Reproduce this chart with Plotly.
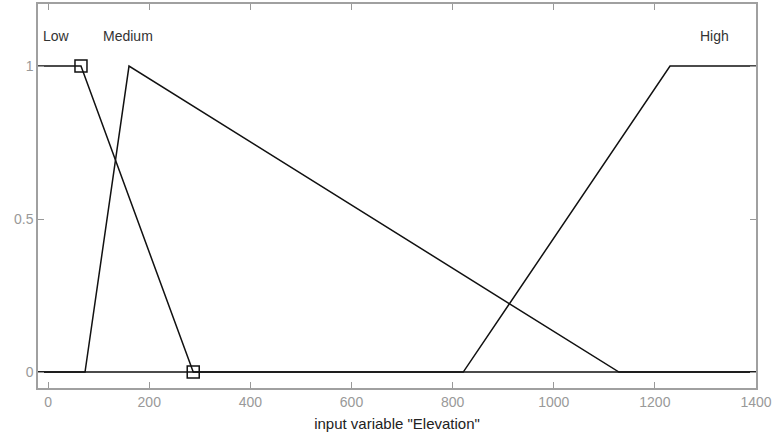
import plotly.graph_objects as go

# Membership functions (input variable "Elevation")
low_x = [-20, 65, 287, 1400]
low_y = [1, 1, 0, 0]
med_x = [-20, 73, 160, 1129, 1400]
med_y = [0, 0, 1, 0, 0]
high_x = [-20, 821, 1230, 1400]
high_y = [0, 0, 1, 1]
marker_x = [65, 287]
marker_y = [1, 0]
labels = ["Low", "Medium", "High"]
label_x = [16, 158, 1317]
label_y = [1.1, 1.1, 1.1]
xticks = [0, 200, 400, 600, 800, 1000, 1200, 1400]
yticks = [0, 0.5, 1]

fig = go.Figure()
for xs, ys in [(low_x, low_y), (med_x, med_y), (high_x, high_y)]:
    fig.add_trace(go.Scatter(x=xs, y=ys, mode="lines",
                             line=dict(color="#111111", width=1.5),
                             showlegend=False, hoverinfo="skip"))
fig.add_trace(go.Scatter(x=marker_x, y=marker_y, mode="markers",
                         marker=dict(symbol="square-open", size=12,
                                     color="#111111", line=dict(width=1.5)),
                         showlegend=False))
for t, x, y in zip(labels, label_x, label_y):
    fig.add_annotation(x=x, y=y, text=t, showarrow=False,
                       font=dict(family="Arial, Liberation Sans", size=14, color="#333333"))

fig.update_layout(
    width=772, height=438,
    margin=dict(l=38, r=16, t=4, b=50, autoexpand=False),
    paper_bgcolor="white", plot_bgcolor="white",
    font=dict(family="Arial, Liberation Sans", size=14, color="#999999"),
)
fig.update_xaxes(range=[-20, 1400], tickvals=xticks, ticks="inside", ticklen=6,
                 tickcolor="#999999", showgrid=False, zeroline=False,
                 showline=True, linecolor="#a0a0a0", linewidth=1.5, mirror="ticks",
                 title=dict(text='input variable "Elevation"', standoff=10,
                            font=dict(color="#222222", size=15)))
fig.update_yaxes(range=[-0.052, 1.203], tickvals=yticks, ticktext=["0", "0.5", "1"],
                 ticks="inside", ticklen=6, tickcolor="#999999", showgrid=False,
                 zeroline=False, showline=True, linecolor="#a0a0a0", linewidth=1.5,
                 mirror="ticks")

fig.write_html("out.html", config={"displayModeBar": False},
               post_script="document.body.style.margin='0';")
